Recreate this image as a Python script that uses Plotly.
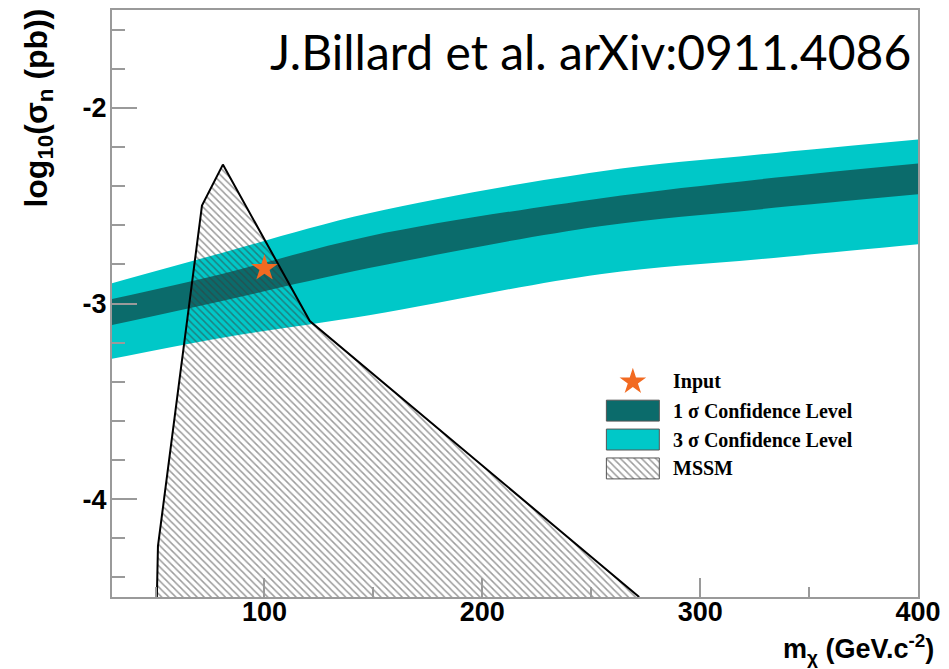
import plotly.graph_objects as go

# ---- data ----
mass = [30, 80, 148, 254, 327, 400]
s3_top = [-2.896, -2.743, -2.539, -2.325, -2.239, -2.162]
s1_top = [-2.977, -2.850, -2.656, -2.463, -2.366, -2.285]
s1_bot = [-3.110, -2.988, -2.819, -2.605, -2.519, -2.442]
s3_bot = [-3.283, -3.176, -3.060, -2.850, -2.774, -2.697]

mssm_x = [50.6, 51.1, 71.3, 80.9, 120.8, 272.0]
mssm_y = [-4.5, -4.24, -2.50, -2.29, -3.09, -4.5]

input_x = [100]
input_y = [-2.82]

x_tickvals = [100, 200, 300, 400]
x_ticktext = ["100", "200", "300", "400"]
y_tickvals = [-2, -3, -4]
y_ticktext = ["-2", "-3", "-4"]

legend_labels = ["Input", "1 σ Confidence Level", "3 σ Confidence Level", "MSSM"]

C_DARK = "#0b6b6b"
C_CYAN = "#00c8c8"
C_STAR = "#f26a21"
C_AXIS = "#9a9a9a"
HATCH = dict(shape="\\", fgcolor="#3a3a3a", bgcolor="rgba(0,0,0,0)",
             size=5, solidity=0.3, fillmode="overlay")

fig = go.Figure()

# 3 sigma band
fig.add_trace(go.Scatter(x=mass, y=s3_bot, mode="lines", line=dict(width=0, shape="spline"),
                         hoverinfo="skip"))
fig.add_trace(go.Scatter(x=mass, y=s3_top, mode="lines", line=dict(width=0, shape="spline"),
                         fill="tonexty", fillcolor=C_CYAN, hoverinfo="skip"))
# 1 sigma band
fig.add_trace(go.Scatter(x=mass, y=s1_bot, mode="lines", line=dict(width=0, shape="spline"),
                         hoverinfo="skip"))
fig.add_trace(go.Scatter(x=mass, y=s1_top, mode="lines", line=dict(width=0, shape="spline"),
                         fill="tonexty", fillcolor=C_DARK, hoverinfo="skip"))
# MSSM hatched region
fig.add_trace(go.Scatter(
    x=mssm_x, y=mssm_y, fill="toself", fillcolor="rgba(0,0,0,0)",
    fillpattern=HATCH, line=dict(color="black", width=2), mode="lines", hoverinfo="skip"))
# input point
fig.add_trace(go.Scatter(
    x=input_x, y=input_y, mode="markers",
    marker=dict(symbol="star", size=20, color=C_STAR, line=dict(width=0))))

# ---- legend drawn in a small inset axis ----
row_h = 29
key_x0, key_x1 = 7, 60
key_half = 10.5
rows = [15 + i * row_h for i in range(4)]
fig.add_trace(go.Scatter(x=[(key_x0 + key_x1) / 2], y=[rows[0]], mode="markers",
                         marker=dict(symbol="star", size=20, color=C_STAR),
                         xaxis="x2", yaxis="y2"))
for r, col, pat in [(rows[1], C_DARK, False), (rows[2], C_CYAN, False), (rows[3], None, True)]:
    if pat:
        kw = dict(fillcolor="white", fillpattern=HATCH)
    else:
        kw = dict(fillcolor=col)
    fig.add_trace(go.Scatter(
        x=[key_x0, key_x1, key_x1, key_x0, key_x0],
        y=[r - key_half, r - key_half, r + key_half, r + key_half, r - key_half],
        fill="toself", mode="lines", line=dict(color="#555555", width=1),
        xaxis="x2", yaxis="y2", hoverinfo="skip", **kw))

annotations = []
for r, lab in zip(rows, legend_labels):
    annotations.append(dict(x=72, y=r, xref="x2", yref="y2", text="<b>%s</b>" % lab,
                            showarrow=False, xanchor="left", yanchor="middle",
                            font=dict(family="Liberation Serif, Times New Roman, serif",
                                      size=20, color="black")))

# titles
annotations.append(dict(
    x=(268 - 112) / 807, y=(597 - 50) / 589, xref="paper", yref="paper",
    text="J.Billard et al. arXiv:0911.4086", showarrow=False,
    xanchor="left", yanchor="middle",
    font=dict(family="Lato, Open Sans, sans-serif", size=48, color="black")))
annotations.append(dict(
    x=(937 - 112) / 807, y=(597 - 649) / 589, xref="paper", yref="paper",
    text="<b>m<sub>χ</sub> (GeV.c<sup>-2</sup>)</b>", showarrow=False,
    xanchor="right", yanchor="middle",
    font=dict(family="Liberation Sans, Arial, sans-serif", size=27, color="black")))
annotations.append(dict(
    x=(38 - 112) / 807, y=(597 - 5) / 589, xref="paper", yref="paper",
    text="<b>log<sub>10</sub>(σ<sub>n</sub> (pb))</b>", showarrow=False, textangle=-90,
    xanchor="center", yanchor="top",
    font=dict(family="Liberation Sans, Arial, sans-serif", size=32, color="black")))

tickfont = dict(family="Liberation Sans, Arial, sans-serif", size=27, color="black", weight="bold")

fig.update_layout(
    width=949, height=669,
    margin=dict(l=112, r=30, t=8, b=72),
    plot_bgcolor="white", paper_bgcolor="white",
    showlegend=False,
    annotations=annotations,
    xaxis=dict(range=[30, 400], showgrid=False, zeroline=False,
               showline=True, linecolor=C_AXIS, linewidth=2, mirror=True,
               ticks="inside", ticklen=19, tickwidth=1.5, tickcolor=C_AXIS,
               tickmode="array", tickvals=x_tickvals, ticktext=x_ticktext,
               tickfont=tickfont, ticklabelstandoff=-10,
               minor=dict(ticks="inside", ticklen=10, tickwidth=1.5, tickcolor=C_AXIS,
                          tick0=0, dtick=50, showgrid=False)),
    yaxis=dict(range=[-4.5, -1.5], showgrid=False, zeroline=False,
               showline=True, linecolor=C_AXIS, linewidth=2, mirror=True,
               ticks="inside", ticklen=25, tickwidth=1.5, tickcolor=C_AXIS,
               tickmode="array", tickvals=y_tickvals, ticktext=y_ticktext,
               tickfont=tickfont, ticklabelstandoff=-2,
               minor=dict(ticks="inside", ticklen=13, tickwidth=1.5, tickcolor=C_AXIS,
                          tick0=0, dtick=0.2, showgrid=False)),
    xaxis2=dict(domain=[(600 - 112) / 807, (880 - 112) / 807], range=[0, 280],
                visible=False, anchor="y2", fixedrange=True),
    yaxis2=dict(domain=[(597 - 484) / 589, (597 - 366) / 589], range=[118, 0],
                visible=False, anchor="x2", fixedrange=True),
)

fig.write_html("out.html")
